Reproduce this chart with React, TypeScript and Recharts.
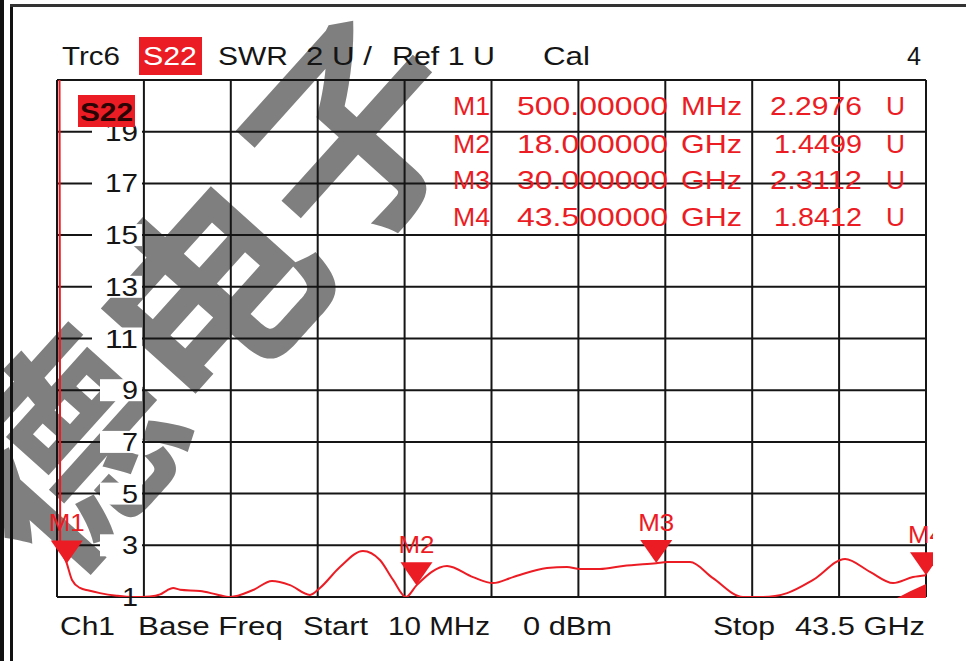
import { LineChart, Line, XAxis, YAxis, CartesianGrid, ReferenceDot } from 'recharts';

// trace S22 (SWR)
const freqGHz = [
  0.12, 0.17, 0.5, 0.76, 1.16, 1.6, 2.16, 3.0, 3.81, 4.66,
  5.17, 5.5, 5.82, 6.17, 7.17, 8.0, 8.67, 9.82, 10.77, 11.67,
  12.67, 13.17, 14.17, 15.32, 16.17, 16.83, 17.48, 18.0, 19.53, 20.83,
  21.83, 22.83, 24.53, 25.53, 26.18, 27.18, 28.34, 30.0, 30.54, 31.69,
  32.84, 34.34, 35.34, 36.55, 37.85, 39.45, 40.7, 41.85, 42.85, 43.5,
];
const swrU = [
  30, 3.0, 2.3, 1.66, 1.35, 1.25, 1.15, 1.05, 1.0, 1.02,
  1.1, 1.25, 1.35, 1.28, 1.23, 1.1, 1.0, 1.27, 1.62, 1.46,
  1.08, 1.35, 2.16, 2.78, 2.43, 1.66, 1.0, 1.45, 2.2, 1.77,
  1.54, 1.77, 2.12, 2.16, 2.08, 2.08, 2.2, 2.31, 2.35, 2.35,
  1.73, 1.0, 1.0, 1.15, 1.66, 2.47, 1.97, 1.54, 1.77, 1.84,
];

const startGHz = 0.01;
const stopGHz = 43.5;
const yTickValues = [1, 3, 5, 7, 9, 11, 13, 15, 17, 19];
const yGridValues = [1, 3, 5, 7, 9, 11, 13, 15, 17, 19, 21];
const xGridGHz = [0.01, 4.359, 8.708, 13.057, 17.406, 21.755, 26.104, 30.453, 34.802, 39.151, 43.5];

const markerNames = ['M1', 'M2', 'M3', 'M4'];
const markerFreqGHz = [0.5, 18, 30, 43.5];
const markerSWR = [2.2976, 1.4499, 2.3112, 1.8412];
const markerFreqText = ['500.00000', '18.000000', '30.000000', '43.500000'];
const markerUnits = ['MHz', 'GHz', 'GHz', 'GHz'];
const markerValueText = ['2.2976', '1.4499', '2.3112', '1.8412'];

const data = freqGHz.map((f, i) => ({ f, v: swrU[i] }));

const RED = '#ec1c24';
const INK = '#151515';
const FONT = "'Liberation Sans', Arial, sans-serif";

// y labels sit inside the grid, with a white patch that breaks the grid line
function YLabel(props: any) {
  const { cx, cy, label } = props;
  const two = label.length > 1;
  const right = cx + 81;
  const onBottom = label === '1'; // the trace runs over this one
  return (
    <g>
      {!onBottom && (
        <rect x={right - (two ? 46 : 38)} y={cy - 11} width={two ? 50 : 42} height={22} fill="#fff" />
      )}
      <text
        x={right}
        y={cy}
        textAnchor="end"
        dominantBaseline="central"
        fontSize={25}
        fill={INK}
        fontFamily={FONT}
        textLength={two ? 33 : 16}
        lengthAdjust="spacingAndGlyphs"
      >
        {label}
      </text>
    </g>
  );
}

function MarkerShape(props: any) {
  const { cx, cy, name } = props;
  return (
    <g clipPath="url(#screenClip)">
      <polygon points={`${cx - 16},${cy - 23} ${cx + 16},${cy - 23} ${cx},${cy}`} fill={RED} />
      <text
        x={cx}
        y={cy - 41}
        textAnchor="middle"
        dominantBaseline="central"
        fontSize={24}
        fill={RED}
        fontFamily={FONT}
        textLength={36}
        lengthAdjust="spacingAndGlyphs"
      >
        {name}
      </text>
    </g>
  );
}

function StopWedge(props: any) {
  const { cx, cy } = props;
  return (
    <path
      d={`M${cx - 29},${cy + 1} L${cx},${cy + 1} L${cx},${cy - 13} Q${cx - 14},${cy - 7} ${cx - 29},${cy + 1} Z`}
      fill={RED}
    />
  );
}

const T = (p: any) => (
  <text
    x={p.x}
    y={p.y}
    textAnchor={p.anchor || 'start'}
    dominantBaseline="central"
    fontSize={p.size || 25}
    fill={p.fill || INK}
    fontWeight={p.weight || 400}
    fontFamily={FONT}
    textLength={p.w}
    lengthAdjust="spacingAndGlyphs"
    xmlSpace="preserve"
  >
    {p.children}
  </text>
);

export default function App() {
  const rowY = [106, 144, 180, 217];
  return (
    <div style={{ position: 'absolute', left: 0, top: 0, width: 966, height: 661, background: '#fff', overflow: 'hidden' }}>
      {/* watermark sits under the trace */}
      <svg width={966} height={661} style={{ position: 'absolute', left: 0, top: 0 }}>
        <defs>
          <clipPath id="screenClip">
            <rect x={0} y={0} width={933} height={661} />
          </clipPath>
        </defs>
        <text
          x={200}
          y={285}
          transform="rotate(-48 200 285)"
          textAnchor="middle"
          dominantBaseline="central"
          fontSize={215}
          fontWeight={700}
          fill="#7f7f7f"
          fontFamily="'Noto Sans CJK SC', sans-serif"
        >
          德电子
        </text>
      </svg>

      <div style={{ position: 'absolute', left: 0, top: 0 }}>
        <LineChart width={966} height={661} data={data} margin={{ top: 80, right: 40, bottom: 64, left: 57 }}>
          <CartesianGrid
            stroke={INK}
            strokeWidth={2}
            horizontalValues={yGridValues}
            verticalValues={xGridGHz}
            fill="none"
          />
          <XAxis type="number" dataKey="f" domain={[startGHz, stopGHz]} hide />
          <YAxis type="number" domain={[1, 21]} allowDataOverflow width={0} hide />
          {yTickValues.map((v) => (
            <ReferenceDot
              key={'t' + v}
              x={startGHz}
              y={v}
              shape={(p: any) => <YLabel {...p} label={String(v)} />}
            />
          ))}
          <Line
            type="monotone"
            dataKey="v"
            stroke={RED}
            strokeWidth={2}
            dot={false}
            isAnimationActive={false}
          />
          {markerNames.map((n, i) => (
            <ReferenceDot
              key={n}
              x={markerFreqGHz[i]}
              y={markerSWR[i]}
              shape={(p: any) => <MarkerShape {...p} name={n} />}
            />
          ))}
          <ReferenceDot x={stopGHz} y={1} shape={(p: any) => <StopWedge {...p} />} />
        </LineChart>
      </div>

      <svg width={966} height={661} style={{ position: 'absolute', left: 0, top: 0, pointerEvents: 'none' }}>
        {/* screen frame */}
        <rect x={0} y={0} width={4} height={661} fill="#111" />
        <rect x={10} y={4} width={3} height={657} fill="#111" />
        <rect x={10} y={4} width={956} height={3} fill="#333" />

        {/* header */}
        <T x={62} y={56} w={58}>Trc6</T>
        <rect x={139} y={37} width={63} height={38} fill={RED} />
        <T x={143} y={56} w={54} fill="#fff">S22</T>
        <T x={218} y={56} w={70}>SWR</T>
        <T x={306} y={56} w={66}>2 U /</T>
        <T x={392} y={56} w={103}>Ref 1 U</T>
        <T x={543} y={56} w={47}>Cal</T>
        <T x={907} y={56} w={14}>4</T>

        {/* trace badge */}
        <rect x={78} y={95} width={57} height={32} fill={RED} />
        <T x={80} y={112} w={53} fill="#2b0505" weight={700}>S22</T>

        {/* marker table */}
        {markerNames.map((n, i) => (
          <g key={n}>
            <T x={490} y={rowY[i]} anchor="end" w={37} fill={RED}>{n}</T>
            <T x={668} y={rowY[i]} anchor="end" w={151} fill={RED}>{markerFreqText[i]}</T>
            <T x={681} y={rowY[i]} w={61} fill={RED}>{markerUnits[i]}</T>
            <T x={862} y={rowY[i]} anchor="end" w={markerValueText[i].startsWith('1') ? 88 : 92} fill={RED}>
              {markerValueText[i]}
            </T>
            <T x={886} y={rowY[i]} w={19} fill={RED}>U</T>
          </g>
        ))}

        {/* channel line */}
        <T x={60} y={626} w={55}>Ch1</T>
        <T x={138} y={626} w={145}>Base Freq</T>
        <T x={303} y={626} w={65}>Start</T>
        <T x={388} y={626} w={102}>10 MHz</T>
        <T x={523} y={626} w={89}>0 dBm</T>
        <T x={713} y={626} w={62}>Stop</T>
        <T x={795} y={626} w={130}>43.5 GHz</T>
      </svg>
    </div>
  );
}
